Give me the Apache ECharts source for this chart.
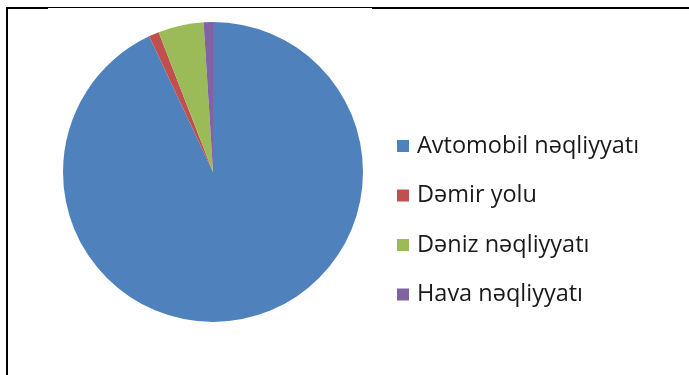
<!DOCTYPE html>
<html>
<head>
<meta charset="utf-8">
<script src="https://cdn.jsdelivr.net/npm/echarts@6/dist/echarts.min.js"></script>
<style>
  html, body { margin: 0; padding: 0; background: #fff; }
  #chart { width: 689px; height: 375px; }
</style>
</head>
<body>
<div id="chart"></div>
<script>
// Transport types and their shares (%)
var categories = ['Avtomobil nəqliyyatı', 'Dəmir yolu', 'Dəniz nəqliyyatı', 'Hava nəqliyyatı'];
var shares = [93.0, 1.1, 4.9, 1.0];
var colors = ['#4F81BD', '#C0504D', '#9BBB59', '#8064A2'];

var chart = echarts.init(document.getElementById('chart'), null, { renderer: 'canvas' });

var pieData = categories.map(function (name, i) {
  return { name: name, value: shares[i], itemStyle: { color: colors[i] } };
});

chart.setOption({
  animation: false,
  backgroundColor: '#ffffff',
  legend: {
    orient: 'vertical',
    left: 397,
    top: 134,
    padding: 0,
    icon: 'rect',
    itemWidth: 12,
    itemHeight: 12,
    itemGap: 25.5,
    selectedMode: false,
    textStyle: {
      fontFamily: 'Open Sans',
      fontSize: 23.5,
      lineHeight: 24,
      color: '#1a1a1a',
      padding: [0, 0, 0, 3]
    },
    data: categories
  },
  series: [{
    type: 'pie',
    center: [213, 172],
    radius: [0, 150],
    startAngle: 90,
    clockwise: true,
    label: { show: false },
    labelLine: { show: false },
    emphasis: { disabled: true },
    itemStyle: { borderWidth: 0 },
    data: pieData
  }],
  graphic: [
    // frame around the chart area
    { type: 'line', shape: { x1: 6, y1: 8, x2: 48, y2: 8 }, style: { stroke: '#000', lineWidth: 2 } },
    { type: 'line', shape: { x1: 48, y1: 7.5, x2: 372, y2: 7.5 }, style: { stroke: '#000', lineWidth: 1 } },
    { type: 'line', shape: { x1: 372, y1: 8, x2: 689, y2: 8 }, style: { stroke: '#000', lineWidth: 2 } },
    { type: 'line', shape: { x1: 7, y1: 7, x2: 7, y2: 375 }, style: { stroke: '#000', lineWidth: 2 } }
  ]
});
</script>
</body>
</html>
